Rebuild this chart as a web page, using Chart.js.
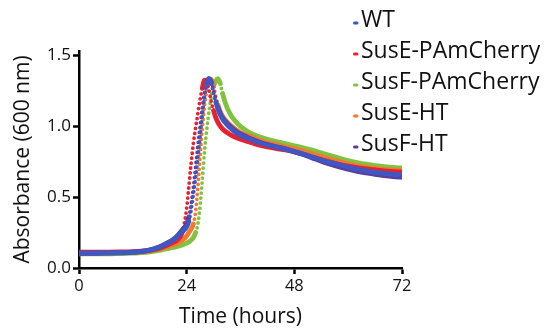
<!DOCTYPE html>
<html>
<head>
<meta charset="utf-8">
<script src="https://cdn.jsdelivr.net/npm/chart.js@4/dist/chart.umd.min.js"></script>
<style>
  html, body { margin: 0; padding: 0; background: #fff; }
  #wrap { width: 553px; height: 332px; position: relative; }
</style>
</head>
<body>
<div id="wrap"><canvas id="c" width="553" height="332"></canvas></div>
<script>
// ---- data ----
const seriesNames = ['WT', 'SusE-PAmCherry', 'SusF-PAmCherry', 'SusE-HT', 'SusF-HT'];
const seriesColors = ['#3f57c2', '#e52230', '#80c342', '#f4792c', '#5a3d9f'];
const xTicks = [0, 24, 48, 72];
const yTicks = [0.0, 0.5, 1.0, 1.5];

const hours = [0, 3, 6, 9, 12, 15, 18, 20, 21, 22, 23, 24, 24.5, 25, 25.5, 26, 26.5, 27, 27.5, 28,
  28.5, 29, 29.5, 30, 30.5, 31, 31.5, 32, 33, 34, 35, 36, 38, 40, 42, 44, 46, 48, 50, 52,
  54, 56, 58, 60, 62, 64, 66, 68, 70, 72];

const wt = [0.105, 0.105, 0.106, 0.108, 0.112, 0.122, 0.148, 0.178, 0.198, 0.225, 0.255, 0.29, 0.33, 0.41, 0.52, 0.64,
  0.78, 0.93, 1.08, 1.21, 1.30, 1.335, 1.30, 1.23, 1.17, 1.12, 1.08, 1.05, 1.01, 0.98, 0.955, 0.935,
  0.91, 0.885, 0.868, 0.852, 0.838, 0.822, 0.803, 0.783, 0.762, 0.745, 0.728, 0.712, 0.697, 0.685,
  0.675, 0.667, 0.66, 0.655];

const suseCherry = [0.112, 0.112, 0.112, 0.113, 0.115, 0.122, 0.14, 0.165, 0.18, 0.2, 0.25, 0.42, 0.58, 0.74, 0.88, 0.99,
  1.09, 1.19, 1.27, 1.325, 1.315, 1.25, 1.17, 1.11, 1.06, 1.025, 1.0, 0.98, 0.955, 0.935, 0.92, 0.908,
  0.888, 0.868, 0.853, 0.842, 0.832, 0.818, 0.802, 0.783, 0.764, 0.746, 0.731, 0.718, 0.707, 0.698,
  0.691, 0.685, 0.68, 0.676];

const susfCherry = [0.1, 0.1, 0.1, 0.102, 0.105, 0.11, 0.125, 0.138, 0.145, 0.152, 0.162, 0.175, 0.185, 0.198, 0.215, 0.25,
  0.31, 0.44, 0.63, 0.83, 0.98, 1.11, 1.21, 1.28, 1.32, 1.335, 1.30, 1.23, 1.13, 1.07, 1.03, 0.998,
  0.955, 0.928, 0.908, 0.892, 0.877, 0.862, 0.847, 0.831, 0.812, 0.793, 0.775, 0.758, 0.744, 0.732,
  0.722, 0.715, 0.709, 0.705];

const suseHT = [0.108, 0.108, 0.108, 0.109, 0.112, 0.118, 0.135, 0.155, 0.165, 0.178, 0.195, 0.225, 0.25, 0.275, 0.31, 0.4,
  0.57, 0.79, 0.99, 1.15, 1.26, 1.32, 1.33, 1.28, 1.21, 1.15, 1.10, 1.07, 1.03, 1.0, 0.975, 0.955,
  0.93, 0.905, 0.885, 0.87, 0.855, 0.84, 0.825, 0.805, 0.785, 0.766, 0.75, 0.735, 0.721, 0.71,
  0.701, 0.695, 0.69, 0.686];

const susfHT = [0.104, 0.104, 0.105, 0.107, 0.11, 0.12, 0.15, 0.182, 0.202, 0.23, 0.268, 0.31, 0.36, 0.45, 0.57, 0.71,
  0.86, 1.0, 1.13, 1.24, 1.31, 1.335, 1.31, 1.25, 1.19, 1.13, 1.09, 1.06, 1.02, 0.99, 0.965, 0.945,
  0.915, 0.89, 0.87, 0.855, 0.84, 0.82, 0.80, 0.776, 0.752, 0.731, 0.712, 0.696, 0.681, 0.67,
  0.66, 0.652, 0.645, 0.64];

const seriesValues = [wt, suseCherry, susfCherry, suseHT, susfHT];
const drawOrder = [0, 2, 4, 3, 1]; // lower = drawn on top

const FONT = "'Open Sans', 'Noto Sans', sans-serif";

function steep(ctx) {
  const dy = Math.abs(ctx.p1.y - ctx.p0.y);
  const dx = Math.abs(ctx.p1.x - ctx.p0.x);
  return dy > 8 && dy > 3.5 * dx;
}

const datasets = seriesNames.map((name, k) => ({
  label: name,
  data: hours.map((h, i) => ({ x: h, y: seriesValues[k][i] })),
  borderColor: seriesColors[k],
  backgroundColor: seriesColors[k],
  borderWidth: 4.8,
  borderCapStyle: 'round',
  borderJoinStyle: 'round',
  pointRadius: 0,
  cubicInterpolationMode: 'monotone',
  order: drawOrder[k],
  segment: {
    borderDash: ctx => steep(ctx) ? [0, 5] : undefined,
    borderWidth: ctx => steep(ctx) ? 3.8 : undefined
  }
}));

const legendPlugin = {
  id: 'sideLegend',
  afterDraw(chart) {
    const ctx = chart.ctx;
    ctx.save();
    ctx.font = "23px " + FONT;
    ctx.textBaseline = 'middle';
    ctx.textAlign = 'left';
    const y0 = 20, step = 31;
    chart.data.datasets.forEach((ds, i) => {
      const y = y0 + i * step;
      ctx.beginPath();
      ctx.lineCap = 'round';
      ctx.strokeStyle = ds.borderColor;
      ctx.lineWidth = 3;
      ctx.moveTo(354.5, y + 3);
      ctx.lineTo(357, y + 3);
      ctx.stroke();
      ctx.fillStyle = '#111';
      ctx.fillText(ds.label, 361, y);
    });
    ctx.restore();
  }
};

new Chart(document.getElementById('c'), {
  type: 'line',
  data: { datasets },
  options: {
    responsive: false,
    animation: false,
    events: [],
    layout: { padding: { top: 51, right: 151, left: 0, bottom: 0 } },
    plugins: { legend: { display: false }, tooltip: { enabled: false } },
    scales: {
      x: {
        type: 'linear',
        min: 0, max: 72,
        afterFit(s) { s.height = 64; },
        afterBuildTicks(s) { s.ticks = xTicks.map(v => ({ value: v })); },
        border: { display: true, color: '#000', width: 2.5 },
        grid: { drawOnChartArea: false, drawTicks: true, tickLength: 6, tickWidth: 2.5, tickColor: '#000' },
        ticks: { color: '#111', font: { family: FONT, size: 16.5 }, padding: 2, maxRotation: 0 },
        title: { display: true, text: 'Time (hours)', color: '#111', font: { family: FONT, size: 21 }, padding: { top: 2, bottom: 2 } }
      },
      y: {
        min: 0, max: 1.53,
        afterFit(s) { s.width = 79; },
        afterBuildTicks(s) { s.ticks = yTicks.map(v => ({ value: v })); },
        border: { display: true, color: '#000', width: 2.5 },
        grid: { drawOnChartArea: false, drawTicks: true, tickLength: 6, tickWidth: 2.5, tickColor: '#000' },
        ticks: { color: '#111', font: { family: FONT, size: 17 }, padding: 2, callback: v => Number(v).toFixed(1) },
        title: { display: true, text: 'Absorbance (600 nm)', color: '#111', font: { family: FONT, size: 21 }, padding: { top: 10, bottom: 2 } }
      }
    }
  },
  plugins: [legendPlugin]
});
</script>
</body>
</html>
